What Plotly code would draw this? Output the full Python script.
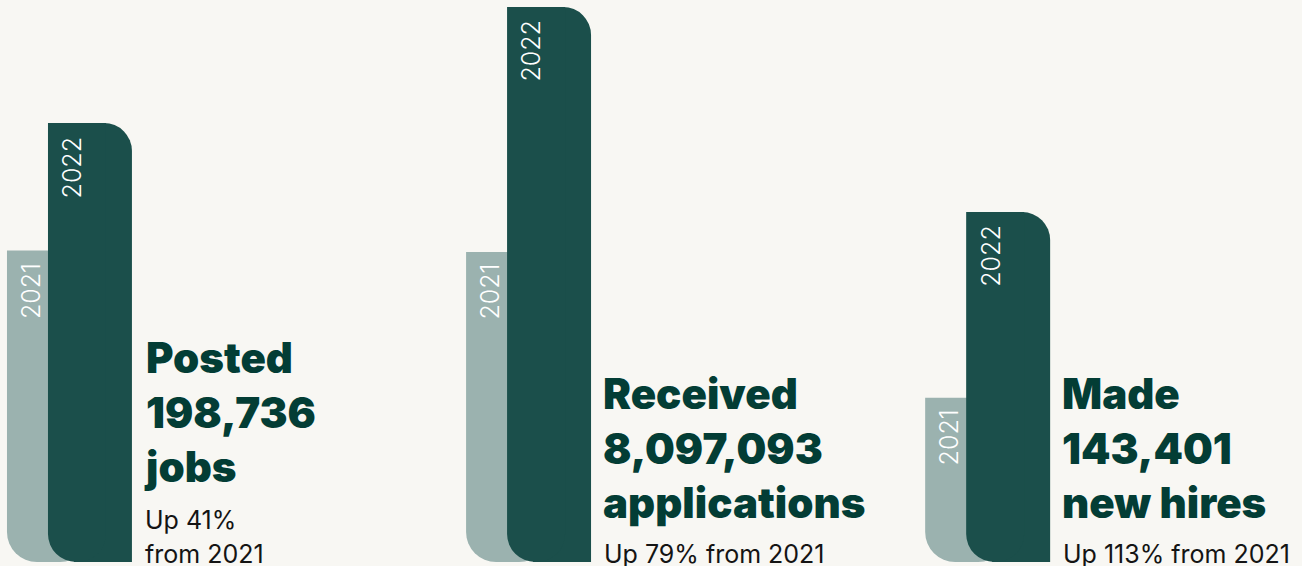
import plotly.graph_objects as go

# ---- data ----
metrics = ["Posted jobs", "Received applications", "Made new hires"]
values_2021 = [140950, 4523500, 67320]
values_2022 = [198736, 8097093, 143401]
years = ["2021", "2022"]
headlines = [
    "Posted<br>198,736<br>jobs",
    "Received<br>8,097,093<br>applications",
    "Made<br>143,401<br>new hires",
]
sublines = [["Up 41%", "from 2021"], ["Up 79% from 2021"], ["Up 113% from 2021"]]

# ---- style ----
W, H = 1302, 566
BG = "#f8f7f3"
DARK = "#1b4f4b"
LIGHT = "#9bb2af"
HEAD = "#033d35"
BODY = "#141414"
RADIUS = 30
y_max = [254400, 8199000, 230300]      # per-panel axis extents
PLOT_H = H - 4
FONT = "Inter, Poppins, sans-serif"


def paper_y(px):
    return 1 - px / PLOT_H


fig = go.Figure()
layout_axes = {}
ax_n = 0


def new_axis(rng):
    global ax_n
    ax_n += 1
    key = "yaxis" if ax_n == 1 else f"yaxis{ax_n}"
    ref = "y" if ax_n == 1 else f"y{ax_n}"
    d = dict(range=rng, visible=False, fixedrange=True)
    if ax_n > 1:
        d["overlaying"] = "y"
    layout_axes[key] = d
    return ref


main_refs = []
for i, m in enumerate(metrics):
    R = y_max[i]
    y_up = new_axis([0, R])                                   # normal axis
    y_dn21 = new_axis([values_2021[i], values_2021[i] - R])   # reversed, 0 at 2021 top
    y_dn22 = new_axis([values_2022[i], values_2022[i] - R])   # reversed, 0 at 2022 top
    main_refs.append(y_up)

    # 2021 bar: hangs from its top so its bottom corners are rounded
    fig.add_trace(go.Bar(
        x=[m], y=[values_2021[i]], offset=-0.1808, width=0.1808,
        marker=dict(color=LIGHT, cornerradius=RADIUS, line=dict(width=0)),
        yaxis=y_dn21, name=years[0], showlegend=False, hoverinfo="skip",
    ))
    # 2022 bar, left piece: rounded bottom-left
    fig.add_trace(go.Bar(
        x=[m], y=[values_2022[i]], offset=-0.0915, width=0.1263,
        marker=dict(color=DARK, cornerradius=RADIUS, line=dict(width=0)),
        yaxis=y_dn22, name=years[1], showlegend=False, hoverinfo="skip",
    ))
    # 2022 bar, right piece: rounded top-right
    fig.add_trace(go.Bar(
        x=[m], y=[values_2022[i]], offset=-0.0349, width=0.1263,
        marker=dict(color=DARK, cornerradius=RADIUS, line=dict(width=0)),
        yaxis=y_up, name=years[1], showlegend=False, hoverinfo="skip",
    ))

annotations = []
label_font = dict(family=FONT, size=25, color="#ffffff", weight=300)
for i, m in enumerate(metrics):
    ya = main_refs[i]
    annotations.append(dict(
        x=m, xref="x", y=values_2021[i], yref=ya, text=years[0],
        textangle=-90, xanchor="center", yanchor="top",
        xshift=-59.5, yshift=-10, showarrow=False, font=label_font,
    ))
    annotations.append(dict(
        x=m, xref="x", y=values_2022[i], yref=ya, text=years[1],
        textangle=-90, xanchor="center", yanchor="top",
        xshift=-18, yshift=-12, showarrow=False, font=label_font,
    ))

head_top = [330, 366, 366]
for i, m in enumerate(metrics):
    annotations.append(dict(
        x=m, xref="x", xanchor="left", xshift=52,
        y=paper_y(head_top[i]), yref="paper", yanchor="top",
        text=headlines[i], align="left", showarrow=False,
        font=dict(family=FONT, size=42, color=HEAD, weight=900),
    ))

body_base = [[528, 562], [562], [562]]
for i, m in enumerate(metrics):
    for line, base in zip(sublines[i], body_base[i]):
        annotations.append(dict(
            x=m, xref="x", xanchor="left", xshift=53,
            y=paper_y(base - 25), yref="paper", yanchor="top",
            text=line, align="left", showarrow=False,
            font=dict(family=FONT, size=25, color=BODY, weight=400),
        ))

fig.update_layout(
    width=W, height=H,
    margin=dict(l=0, r=0, t=0, b=4, pad=0),
    paper_bgcolor=BG, plot_bgcolor=BG,
    barmode="overlay",
    showlegend=False,
    xaxis=dict(type="category", categoryorder="array", categoryarray=metrics,
               range=[-0.196, 2.64], visible=False, fixedrange=True),
    annotations=annotations,
    **layout_axes,
)

fig.write_html("out.html", config={"displayModeBar": False})
